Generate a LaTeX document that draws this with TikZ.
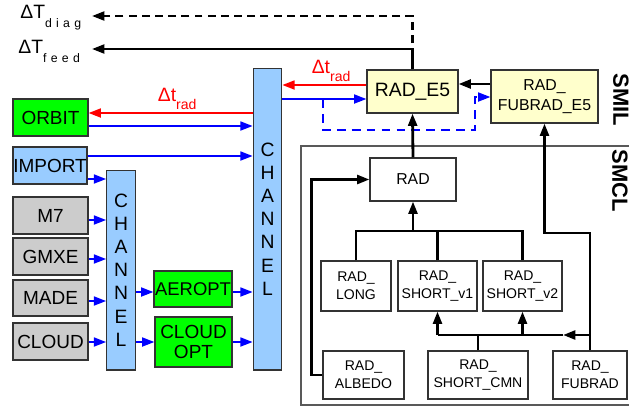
\documentclass[tikz,border=0pt]{standalone}
\usepackage{fontspec}
\setmainfont{Liberation Sans}
\usetikzlibrary{arrows.meta}

\definecolor{boxgreen}{HTML}{00FF00}
\definecolor{boxgray}{HTML}{CCCCCC}
\definecolor{boxblue}{HTML}{99CCFF}
\definecolor{boxyellow}{HTML}{FFFFCC}

\begin{document}
\begin{tikzpicture}[x=0.02cm, y=-0.02cm,
        box/.style={draw=black!80, line width=0.6pt, inner sep=0pt, align=center,
                    font=\fontsize{10.8}{12}\selectfont},
        gbox/.style={box, fill=boxgray},
        grbox/.style={box, fill=boxgreen},
        bbox/.style={box, fill=boxblue},
        ybox/.style={box, fill=boxyellow},
        sbox/.style={box, fill=white, font=\fontsize{8}{10.4}\selectfont},
        chan/.style={bbox, minimum width=0.57cm, font=\fontsize{11}{13.2}\selectfont},
        bluarr/.style={->, blue, line width=1.3pt},
        redarr/.style={->, red, line width=1.3pt},
        blk/.style={black, line width=1.6pt},
        blkarr/.style={->, blk},
        dlabel/.style={red, font=\fontsize{11}{12}\selectfont, inner sep=1pt},
        >={Triangle[length=7pt, width=5pt]}
    ]
    \useasboundingbox (0,0) rectangle (629,407);

    % left column
    \node[grbox, minimum width=1.5cm, minimum height=0.74cm] (orbit) at (50.5,117.5) {ORBIT};
    \node[bbox, minimum width=1.48cm, minimum height=0.74cm] (import) at (50,165.5) {IMPORT};
    \node[gbox, minimum width=1.5cm, minimum height=0.74cm] (m7) at (50.5,215.5) {M7};
    \node[gbox, minimum width=1.5cm, minimum height=0.74cm] (gmxe) at (50.5,256.5) {GMXE};
    \node[gbox, minimum width=1.5cm, minimum height=0.72cm] (made) at (50.5,298) {MADE};
    \node[gbox, minimum width=1.5cm, minimum height=0.74cm] (cloud) at (50.5,341.5) {CLOUD};

    \node[chan, minimum height=4.0cm] (ch1) at (121,270) {C\\H\\A\\N\\N\\E\\L};
    \node[chan, minimum height=6.04cm] (ch2) at (267.5,219) {C\\H\\A\\N\\N\\E\\L};

    \node[grbox, minimum width=1.56cm, minimum height=0.72cm,
          font=\fontsize{10.5}{12}\selectfont] (aeropt) at (193,289) {AEROPT};
    \node[grbox, minimum width=1.54cm, minimum height=1.0cm,
          font=\fontsize{10.8}{11.7}\selectfont] (cloudopt) at (193.5,342) {CLOUD\\OPT};

    % SMIL part
    \node[ybox, minimum width=1.82cm, minimum height=0.86cm,
          font=\fontsize{11}{12}\selectfont] (e5) at (412.5,91.5) {RAD\_E5};
    \node[ybox, minimum width=2.14cm, minimum height=1.06cm,
          font=\fontsize{9}{11.3}\selectfont] (fe5) at (544.5,96.5) {RAD\_\\FUBRAD\_E5};

    % SMCL part
    \node[sbox, minimum width=1.72cm, minimum height=0.86cm,
          font=\fontsize{9}{10}\selectfont] (rad) at (413,179.5) {RAD};
    \node[sbox, minimum width=1.4cm, minimum height=1.0cm] (long) at (356,286) {RAD\_\\LONG};
    \node[sbox, minimum width=1.58cm, minimum height=1.0cm] (v1) at (437.5,286) {RAD\_\\SHORT\_v1};
    \node[sbox, minimum width=1.58cm, minimum height=1.0cm] (v2) at (522.5,286) {RAD\_\\SHORT\_v2};
    \node[sbox, minimum width=1.62cm, minimum height=0.96cm] (albedo) at (363.5,375) {RAD\_\\ALBEDO};
    \node[sbox, minimum width=2.0cm, minimum height=0.96cm] (cmn) at (478,375) {RAD\_\\SHORT\_CMN};
    \node[sbox, minimum width=1.48cm, minimum height=0.96cm] (fubrad) at (590,375) {RAD\_\\FUBRAD};

    \draw[black!65, line width=0.6pt] (629,146) -| (301,405) -- (629,405);
    \node[rotate=-90, font=\bfseries\fontsize{12.5}{13}\selectfont] (smil) at (621,100) {SMIL};
    \node[rotate=-90, font=\bfseries\fontsize{12.5}{13}\selectfont] (smcl) at (620,181) {SMCL};

    % time step outputs
    \node[anchor=west, inner sep=0pt, font=\fontsize{11}{12}\selectfont] (diag) at (20,18)
        {ΔT\raisebox{-0.9ex}{\fontsize{7}{8}\selectfont\addfontfeature{LetterSpace=35}diag}};
    \node[anchor=west, inner sep=0pt, font=\fontsize{11}{12}\selectfont] (feed) at (18,51)
        {ΔT\raisebox{-0.9ex}{\fontsize{7}{8}\selectfont\addfontfeature{LetterSpace=35}feed}};
    \coordinate (diagend) at (92,16);
    \coordinate (feedend) at (92,49);
    \draw[blkarr, line width=1.4pt, dash pattern=on 4.5pt off 3pt] (e5.north) |- (diagend);
    \draw[blkarr, line width=1.4pt] (e5.north) |- (feedend);

    % channel connections
    \draw[redarr] (ch2.west |- 0,113) -- (orbit.east |- 0,113)
        node[dlabel, pos=0.46, above] {Δt\raisebox{-0.8ex}{\fontsize{8}{9}\selectfont rad}};
    \draw[bluarr] (orbit.east |- 0,126) -- (ch2.west |- 0,126);
    \draw[bluarr] (import.east |- 0,156) -- (ch2.west |- 0,156);
    \draw[bluarr] (import.east |- 0,179) -- (ch1.west |- 0,179);
    \draw[bluarr] (m7.east |- 0,220) -- (ch1.west |- 0,220);
    \draw[bluarr] (gmxe.east |- 0,259) -- (ch1.west |- 0,259);
    \draw[bluarr] (made.east |- 0,301) -- (ch1.west |- 0,301);
    \draw[bluarr] (cloud.east |- 0,342) -- (ch1.west |- 0,342);
    \draw[bluarr] (ch1.east |- 0,292) -- (aeropt.west |- 0,292);
    \draw[bluarr] (aeropt.east |- 0,292) -- (ch2.west |- 0,292);
    \draw[bluarr] (ch1.east |- 0,342) -- (cloudopt.west |- 0,342);
    \draw[bluarr] (cloudopt.east |- 0,342) -- (ch2.west |- 0,342);

    \draw[redarr] (e5.west |- 0,85) -- (ch2.east |- 0,85)
        node[dlabel, pos=0.42, above] {Δt\raisebox{-0.8ex}{\fontsize{8}{9}\selectfont rad}};
    \draw[bluarr] (ch2.east |- 0,99) -- (e5.west |- 0,99);
    \coordinate (bd) at (323,99);
    \draw[bluarr, dash pattern=on 5pt off 3.5pt] (bd) -- (323,130) -| (475,97) -- (fe5.west |- 0,97);
    \draw[blkarr] (fe5.west |- 0,84) -- (e5.east |- 0,84);

    % radiation tree
    \coordinate (tj) at (413,231);
    \draw[blkarr] (rad.north) -- (e5.south);
    \draw[blkarr] (tj) -- (rad.south);
    \draw[blk] (long.north) |- (v2.north |- tj) -- (v2.north);
    \draw[blk] (v1.north) -- (v1.north |- tj);
    \draw[blkarr] (albedo.west) -- ++(-11,0) |- (rad.west);
    \draw[blkarr] (fubrad.north) -- (fubrad.north |- 0,233) -| (fe5.south);
    \coordinate (sj) at (590,335);
    \draw[blkarr] (sj) -- (563,335);
    \draw[blk] (563,335) -- (v1.south |- sj);
    \draw[blkarr] (v1.south |- sj) -- (v1.south);
    \draw[blkarr] (v2.south |- sj) -- (v2.south);
    \draw[blk] (cmn.north) -- (cmn.north |- sj);
\end{tikzpicture}
\end{document}
